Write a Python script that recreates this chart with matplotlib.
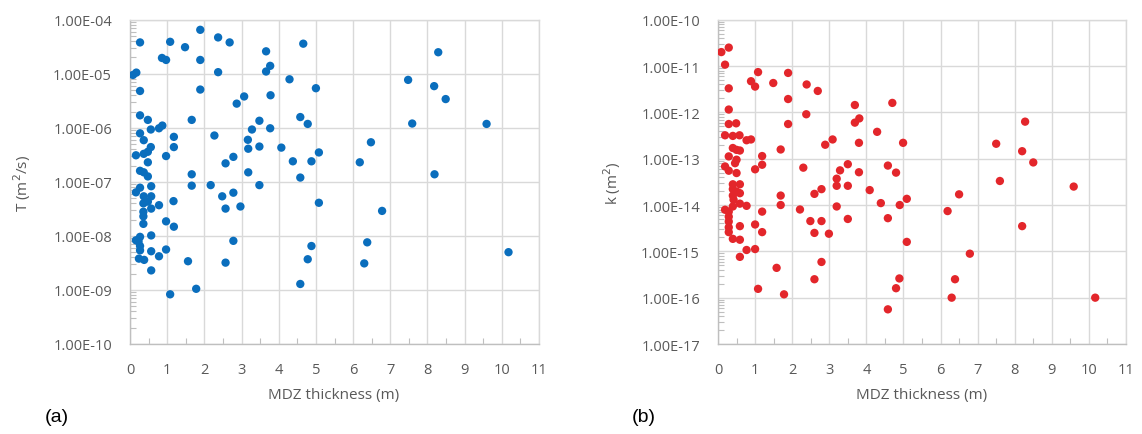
import matplotlib
matplotlib.use("Agg")
import matplotlib.pyplot as plt
from matplotlib.ticker import FixedLocator, MultipleLocator, FuncFormatter, NullFormatter

# ---------------- data: panel (a) transmissivity ----------------
thick_a = [0.27, 1.08, 1.48, 1.89, 2.37, 2.68, 3.66, 0.86, 0.97, 1.89,
           3.77, 3.66, 2.37, 0.08, 0.17, 0.27, 1.89, 2.87, 3.07, 3.78,
           0.27, 0.48, 1.66, 3.48, 0.56, 0.78, 0.87, 3.77, 3.28, 0.27,
           2.27, 0.37, 1.18, 1.18, 3.17, 3.18, 3.48, 0.56, 0.48, 0.37,
           0.16, 0.97, 0.48, 2.78, 2.57, 0.27, 0.37, 0.48, 1.66, 3.18,
           0.27, 0.16, 0.57, 1.66, 2.17, 3.48, 2.48, 2.78, 0.37, 0.57,
           0.36, 0.48, 0.57, 0.78, 1.17, 0.36, 0.36, 0.36, 2.57, 2.97,
           0.97, 1.18, 0.57, 0.27, 0.16, 0.23, 0.27, 0.27, 2.78, 0.57,
           0.97, 0.78, 0.24, 0.38, 1.56, 2.57, 0.57, 1.78, 1.08,
           4.66, 8.29, 4.29, 7.48, 5.00, 8.18, 8.49, 4.58, 4.78, 7.59,
           9.59, 4.07, 6.48, 5.08, 4.38, 4.88, 6.18, 4.58, 8.19, 5.08,
           6.78, 6.38, 4.88, 10.18, 4.78, 6.30, 4.58]
T_a = [3.8e-5, 3.9e-5, 3.1e-5, 6.5e-5, 4.7e-5, 3.8e-5, 2.6e-5, 1.96e-5, 1.8e-5, 1.8e-5,
       1.4e-5, 1.1e-5, 1.07e-5, 9.5e-6, 1.05e-5, 4.8e-6, 5.1e-6, 2.8e-6, 3.8e-6, 4.0e-6,
       1.7e-6, 1.4e-6, 1.4e-6, 1.35e-6, 9.3e-7, 9.8e-7, 1.1e-6, 9.8e-7, 9.3e-7, 7.9e-7,
       7.2e-7, 5.9e-7, 6.8e-7, 4.4e-7, 6.0e-7, 4.1e-7, 4.5e-7, 4.4e-7, 3.6e-7, 3.3e-7,
       3.1e-7, 3.0e-7, 2.3e-7, 2.9e-7, 2.2e-7, 1.6e-7, 1.5e-7, 1.26e-7, 1.38e-7, 1.5e-7,
       7.8e-8, 6.4e-8, 8.3e-8, 8.5e-8, 8.7e-8, 8.7e-8, 5.4e-8, 6.3e-8, 5.4e-8, 5.4e-8,
       4.0e-8, 4.3e-8, 3.2e-8, 3.7e-8, 4.4e-8, 2.8e-8, 2.3e-8, 1.67e-8, 3.2e-8, 3.5e-8,
       1.86e-8, 1.48e-8, 1.02e-8, 9.6e-9, 8.3e-9, 7.9e-9, 6.5e-9, 5.4e-9, 8.1e-9, 5.2e-9,
       5.6e-9, 4.2e-9, 3.8e-9, 3.6e-9, 3.4e-9, 3.2e-9, 2.3e-9, 1.05e-9, 8.3e-10,
       3.6e-5, 2.5e-5, 7.9e-6, 7.7e-6, 5.4e-6, 5.9e-6, 3.4e-6, 1.58e-6, 1.18e-6, 1.2e-6,
       1.18e-6, 4.3e-7, 5.4e-7, 3.5e-7, 2.4e-7, 2.4e-7, 2.3e-7, 1.2e-7, 1.38e-7, 4.1e-8,
       2.9e-8, 7.6e-9, 6.5e-9, 5.0e-9, 3.7e-9, 3.1e-9, 1.29e-9]

# ---------------- data: panel (b) permeability ----------------
thick_b = [2.39, 2.69, 3.69, 4.70, 2.38, 3.69, 3.81, 8.28, 4.29, 3.09,
           2.89, 3.80, 4.99, 7.50, 8.20, 8.50, 2.30, 3.50, 3.29, 4.58,
           4.80, 3.80, 3.20, 3.20, 3.50, 7.60, 9.59, 2.79, 2.60, 4.09,
           6.50, 5.09, 4.39, 4.90, 3.20, 2.21, 6.19, 3.50, 4.58, 2.49,
           2.79, 8.20, 2.60, 2.99, 5.09, 6.79, 2.79, 2.60, 4.89, 4.80,
           6.39, 6.30, 10.17, 4.58,
           0.09, 0.29, 0.19, 1.08, 1.89, 0.89, 1.00, 1.49, 0.29, 1.89,
           0.29, 0.29, 0.49, 1.89, 0.19, 0.40, 0.58, 0.77, 0.89, 0.40,
           0.50, 0.59, 1.69, 0.29, 1.19, 0.50, 0.46, 0.19, 0.29, 0.50,
           1.00, 1.19,
           0.40, 0.59, 0.40, 0.50, 0.59, 0.40, 1.69, 0.42, 0.59, 0.77,
           0.40, 1.69, 0.19, 0.29, 1.19, 0.29, 0.29, 1.00, 0.59, 0.29,
           0.29, 1.19, 0.40, 0.59, 0.77, 1.00, 0.59, 1.58, 1.08, 1.78]
k_b = [4.0e-12, 2.9e-12, 1.44e-12, 1.6e-12, 9.1e-13, 6.0e-13, 7.4e-13, 6.3e-13, 3.8e-13, 2.6e-13,
       2.0e-13, 2.2e-13, 2.2e-13, 2.1e-13, 1.45e-13, 8.3e-14, 6.4e-14, 7.6e-14, 5.6e-14, 7.1e-14,
       5.0e-14, 5.1e-14, 3.7e-14, 2.6e-14, 2.6e-14, 3.3e-14, 2.5e-14, 2.2e-14, 1.74e-14, 2.1e-14,
       1.7e-14, 1.36e-14, 1.1e-14, 1.0e-14, 9.3e-15, 8.0e-15, 7.4e-15, 5.0e-15, 5.2e-15, 4.5e-15,
       4.5e-15, 3.5e-15, 2.5e-15, 2.4e-15, 1.6e-15, 8.9e-16, 5.9e-16, 2.5e-16, 2.6e-16, 1.6e-16,
       2.5e-16, 1.0e-16, 1.0e-16, 5.6e-17,
       2.0e-11, 2.5e-11, 1.07e-11, 7.4e-12, 7.1e-12, 4.7e-12, 3.6e-12, 4.3e-12, 3.3e-12, 1.94e-12,
       1.15e-12, 5.6e-13, 5.8e-13, 5.6e-13, 3.2e-13, 3.1e-13, 3.2e-13, 2.5e-13, 2.6e-13, 1.7e-13,
       1.55e-13, 1.5e-13, 1.58e-13, 1.12e-13, 1.14e-13, 9.5e-14, 8.0e-14, 6.8e-14, 5.5e-14, 4.9e-14,
       5.9e-14, 7.4e-14,
       2.8e-14, 2.8e-14, 2.2e-14, 1.95e-14, 1.8e-14, 1.6e-14, 1.6e-14, 1.3e-14, 1.07e-14, 9.6e-15,
       9.3e-15, 1.0e-14, 7.9e-15, 7.2e-15, 7.2e-15, 5.6e-15, 4.4e-15, 3.8e-15, 3.5e-15, 3.3e-15,
       2.6e-15, 2.6e-15, 1.86e-15, 1.78e-15, 1.07e-15, 1.12e-15, 7.6e-16, 4.4e-16, 1.55e-16, 1.18e-16]

x_ticks = list(range(0, 12))
y_exp_a = list(range(-10, -3))    # 1E-10 .. 1E-04
y_exp_b = list(range(-17, -9))    # 1E-17 .. 1E-10
x_label = "MDZ thickness (m)"
y_label_a = "T (m$^2$/s)"
y_label_b = "k (m$^2$)"

# ---------------- figure ----------------
W, H = 1142, 435
fig = plt.figure(figsize=(W / 100, H / 100), dpi=100)
fig.patch.set_facecolor("white")

TXT = "#595959"
GRID = "#D9D9D9"
SPINE = "#BFBFBF"
FONT = "Open Sans"


def px_axes(x0, x1, y0, y1):
    return fig.add_axes([x0 / W, 1 - y1 / H, (x1 - x0) / W, (y1 - y0) / H])


def sci_fmt(v, pos):
    return "%.2E" % v


def style(ax, exps):
    majors = [10.0 ** e for e in exps]
    minors = [m * 10.0 ** e for e in exps[:-1] for m in range(2, 10)]
    ax.set_yscale("log")
    ax.set_xlim(0, 11)
    ax.set_ylim(majors[0], majors[-1])
    ax.xaxis.set_major_locator(FixedLocator(x_ticks))
    ax.xaxis.set_minor_locator(MultipleLocator(0.5))
    ax.yaxis.set_major_locator(FixedLocator(majors))
    ax.yaxis.set_minor_locator(FixedLocator(minors))
    ax.yaxis.set_major_formatter(FuncFormatter(sci_fmt))
    ax.yaxis.set_minor_formatter(NullFormatter())
    ax.grid(True, which="major", color=GRID, linewidth=1.0)
    ax.set_axisbelow(True)
    for sp in ax.spines.values():
        sp.set_color(GRID)
        sp.set_linewidth(1.0)
    ax.spines["left"].set_color(SPINE)
    ax.spines["bottom"].set_color(SPINE)
    ax.tick_params(which="major", length=0, labelsize=10.5, labelcolor=TXT)
    ax.tick_params(axis="x", which="major", pad=13)
    ax.tick_params(axis="y", which="major", pad=13)
    ax.tick_params(which="minor", direction="in", length=4, width=0.8, color=SPINE)
    for lab in ax.get_xticklabels() + ax.get_yticklabels():
        lab.set_fontfamily(FONT)


ax1 = px_axes(130, 539, 20.7, 345)
ax1.scatter(thick_a, T_a, s=36, color="#0A6EBD", edgecolors="none", zorder=3)
style(ax1, y_exp_a)

ax2 = px_axes(718, 1126, 20.7, 345)
ax2.scatter(thick_b, k_b, s=36, color="#E3262B", edgecolors="none", zorder=3)
style(ax2, y_exp_b)

# axis titles
fig.text(334 / W, 1 - 396 / H, x_label, ha="center", va="center", fontsize=11, color=TXT, family=FONT)
fig.text(922 / W, 1 - 396 / H, x_label, ha="center", va="center", fontsize=11, color=TXT, family=FONT)
fig.text(22 / W, 1 - 183 / H, y_label_a, ha="center", va="center", rotation=90, fontsize=11, color=TXT, family=FONT)
fig.text(612 / W, 1 - 183 / H, y_label_b, ha="center", va="center", rotation=90, fontsize=11, color=TXT, family=FONT)

# panel labels
fig.text(45 / W, 1 - 418 / H, "(a)", ha="left", va="center", fontsize=14, color="black", family="Liberation Sans")
fig.text(632 / W, 1 - 418 / H, "(b)", ha="left", va="center", fontsize=14, color="black", family="Liberation Sans")

fig.savefig("out.png", dpi=100, facecolor="white")
